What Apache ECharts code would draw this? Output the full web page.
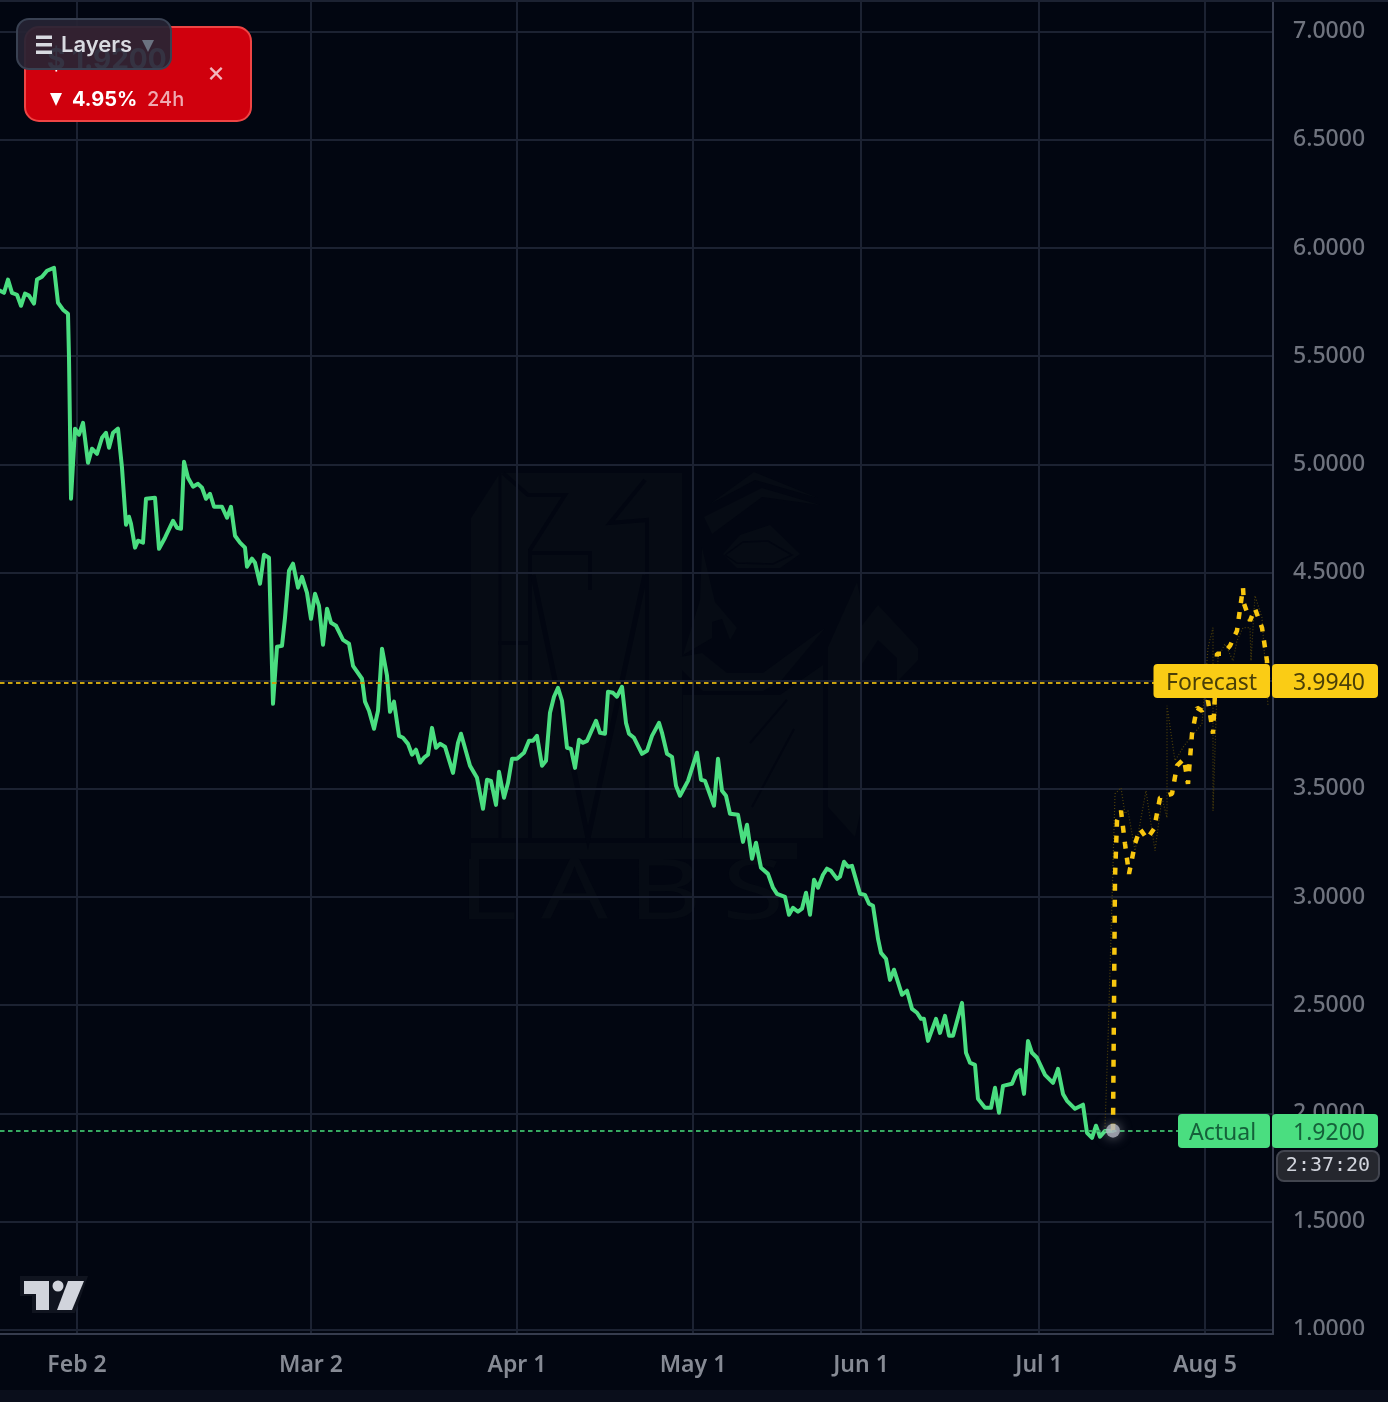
<!DOCTYPE html>
<html>
<head>
<meta charset="utf-8">
<title>Price and forecast</title>
<style>
  html, body { margin: 0; padding: 0; background: #020611; }
  #chart { width: 1388px; height: 1402px; }
</style>
<script src="https://cdn.jsdelivr.net/npm/echarts@6/dist/echarts.min.js"></script>
</head>
<body>
<div id="chart"></div>
<script>
// Session positions carrying a date label along the time axis
const tickBars = [38.5, 155.5, 258.5, 346.5, 430.5, 519.5, 602.5];
const tickLabels = ['Feb 2', 'Mar 2', 'Apr 1', 'May 1', 'Jun 1', 'Jul 1', 'Aug 5'];
const priceTicks = [1, 1.5, 2, 2.5, 3, 3.5, 4, 4.5, 5, 5.5, 6, 6.5, 7];

const lastActual = 1.92;
const lastForecast = 3.994;

// [session position, price]
const actualPrices = [
  [0,5.803],[2,5.793],[4,5.854],[6,5.793],[8.5,5.784],[10.5,5.733],[12.5,5.789],[14.5,5.78],[17,5.743],[18.5,5.854],
  [21,5.867],[23.5,5.895],[27,5.909],[29,5.747],[31.5,5.715],[34,5.696],[34.5,5.493],[35.5,4.841],[37.5,5.165],[39.5,5.137],
  [41.5,5.192],[44,5.007],[46,5.072],[48.5,5.049],[51,5.123],[53,5.146],[54.5,5.077],[56.5,5.146],[59,5.165],[61,4.984],
  [63,4.721],[64.5,4.758],[65.5,4.725],[67.5,4.615],[69,4.647],[71.5,4.638],[73,4.841],[77.5,4.846],[79.5,4.61],[82.5,4.661],
  [86.5,4.739],[88.5,4.707],[90.5,4.702],[92,5.012],[94,4.938],[96.5,4.897],[99,4.91],[101,4.892],[103,4.841],[105,4.864],
  [107,4.804],[111,4.804],[113.5,4.753],[115.5,4.804],[117.5,4.67],[120,4.638],[122.5,4.615],[123.5,4.527],[126,4.564],[127.5,4.545],
  [130,4.448],[132,4.582],[134.5,4.568],[136.5,3.893],[138.5,4.157],[141,4.161],[142.5,4.291],[144.5,4.508],[146.5,4.541],[149,4.43],
  [151,4.48],[153.5,4.406],[155.5,4.286],[157.5,4.402],[159.5,4.346],[161.5,4.166],[163.5,4.333],[165.5,4.268],[168,4.254],[171.5,4.189],
  [174.5,4.171],[176.5,4.069],[181,4.009],[182.5,3.903],[184.5,3.861],[187,3.778],[189,3.861],[191,4.148],[193.5,4.023],[195,3.856],
  [197,3.903],[199.5,3.745],[201.5,3.736],[204,3.708],[206,3.658],[208,3.681],[210,3.621],[212,3.644],[214,3.658],[216,3.782],
  [218,3.69],[220,3.708],[222.5,3.695],[226.5,3.574],[229,3.713],[230.5,3.755],[235,3.607],[238.5,3.551],[241.5,3.408],[243.5,3.542],
  [245.5,3.537],[248,3.426],[249.5,3.579],[252,3.459],[254,3.528],[256,3.639],[258.5,3.639],[262,3.667],[264.5,3.722],[266.5,3.722],
  [268.5,3.745],[271,3.607],[273,3.63],[275,3.852],[277,3.926],[279,3.967],[281,3.907],[283.5,3.69],[285.5,3.685],[287.5,3.597],
  [289.5,3.727],[291.5,3.713],[293.5,3.722],[298,3.815],[300,3.759],[302.5,3.755],[304,3.949],[306.5,3.944],[308.5,3.926],[311,3.972],
  [313,3.805],[314.5,3.755],[317,3.736],[321,3.662],[323.5,3.676],[326,3.745],[329.5,3.805],[331,3.759],[333.5,3.662],[336,3.648],
  [338,3.514],[340,3.468],[344,3.537],[348.5,3.667],[350.5,3.542],[352.5,3.537],[357,3.422],[359,3.639],[361,3.491],[363,3.468],
  [365,3.385],[369,3.38],[371.5,3.255],[373.5,3.334],[376,3.177],[378,3.251],[380.5,3.135],[384,3.107],[386.5,3.043],[388.5,3.015],
  [392.5,3.001],[394.5,2.918],[396.5,2.95],[399,2.932],[401,2.946],[403,3.02],[405,2.918],[407,3.08],[409,3.043],[411.5,3.103],
  [413.5,3.131],[415.5,3.121],[418.5,3.084],[420,3.094],[422,3.163],[424,3.14],[426,3.144],[430,3.015],[432.5,3.01],[434.5,2.969],
  [436.5,2.96],[439,2.807],[440.5,2.742],[443,2.715],[445,2.617],[447,2.664],[451,2.548],[453.5,2.567],[456,2.483],[458.5,2.465],
  [460.5,2.437],[462,2.437],[464,2.335],[468,2.437],[470,2.372],[472.5,2.451],[474.5,2.359],[476.5,2.359],[481,2.511],[483,2.28],
  [485,2.234],[487.5,2.224],[489,2.067],[492.5,2.026],[495.5,2.026],[497.5,2.118],[499.5,2.003],[501.5,2.127],[506,2.137],[508.5,2.192],
  [510,2.201],[512,2.09],[514,2.335],[516,2.28],[518.5,2.257],[522.5,2.178],[526.5,2.141],[529,2.206],[531.5,2.09],[533.5,2.058],
  [537.5,2.021],[541.5,2.04],[543.5,1.91],[546,1.887],[548,1.943],[550,1.892],[552.5,1.919],[556.5,lastActual]
];

const forecastPrices = [
  [556.5,lastActual],[557.5,3.089],[558.5,3.352],[560.5,3.399],[562.5,3.246],[564.5,3.107],[567.5,3.246],[570,3.315],[573.5,3.269],[577,3.315],
  [580,3.459],[586,3.477],[588.5,3.607],[592,3.639],[594,3.523],[596,3.755],[598.5,3.875],[601,3.861],[604,3.907],[606.5,3.755],
  [608.5,4.125],[611.5,4.125],[615,4.161],[618.5,4.231],[621.5,4.43],[622,4.356],[625,4.277],[627.5,4.333],[631,4.245],[633.5,4.092],
  [634,lastForecast]
];

// Faint dotted companion of the forecast
const forecastBand = [
  [552.5,1.938],[554,2.335],[557.5,3.477],[560.5,3.505],[562.5,3.385],[564,3.399],[567.5,3.214],[573,3.491],[577.5,3.214],[581,3.459],
  [583.5,3.366],[583.5,3.884],[587.5,3.63],[592,3.699],[601,3.801],[604,4.152],[606.5,4.245],[606.5,3.399],[609,4.106],[612.5,4.171],
  [616.5,4.092],[618.5,4.185],[621.5,4.245],[625,4.245],[625.5,4.092],[627.5,4.393],[631,4.291],[634,3.884]
];

const BG = '#020611';
const GRID = '#1c2232';
const AXIS = '#363c4e';
const GREEN = '#4ade80';
const YELLOW = '#facc15';
const UI_FONT = '"Noto Sans", sans-serif';
const WATERMARK = '#060b14';

function rect(x, y, width, height, fill, z, r, stroke, lineWidth) {
  return {
    type: 'rect', z: z, silent: true,
    shape: { x: x, y: y, width: width, height: height, r: r || 0 },
    style: { fill: fill, stroke: stroke || null, lineWidth: lineWidth || 0 }
  };
}
function label(text, x, y, fill, font, z, align) {
  return {
    type: 'text', z: z, silent: true,
    style: {
      text: text, x: x, y: y, fill: fill, font: font,
      align: align || 'left', verticalAlign: 'middle'
    }
  };
}
function poly(points, fill, z) {
  return { type: 'polygon', z: z, silent: true, shape: { points: points }, style: { fill: fill } };
}
function cut(points, width) {
  return {
    type: 'polyline', z: -1, silent: true, shape: { points: points },
    style: { stroke: BG, lineWidth: width, fill: null }
  };
}
function logoLetter(ch, x, stretch) {
  return {
    type: 'text', z: -2, silent: true, x: x, y: 895, scaleX: stretch,
    style: { text: ch, x: 0, y: 0, fill: WATERMARK, font: '400 84px "Noto Sans", sans-serif', align: 'left', verticalAlign: 'middle' }
  };
}

// Faint studio logo behind the plot
const logo = [
  poly([[471,518],[500,473],[682,473],[682,838],[471,838]], WATERMARK, -2),
  cut([[500,473],[500,838]], 3),
  cut([[503,473],[528,495],[565,495],[530,550],[530,838]], 4),
  cut([[530,553],[590,553],[590,590]], 4),
  cut([[498,643],[530,643]], 4),
  cut([[533,575],[588,838],[645,575]], 5),
  cut([[645,480],[610,523],[647,520],[647,838]], 4),
  // brows, eye and cheek
  poly([[704,517],[762,488],[820,505],[762,497],[712,534]], WATERMARK, -2),
  poly([[710,504],[754,472],[818,498],[755,480]], WATERMARK, -2),
  poly([[723,554],[740,535],[770,525],[800,554],[780,568],[737,568]], WATERMARK, -2),
  cut([[725,555],[743,542],[768,541],[792,555],[773,564],[737,563],[725,555]], 1.5),
  poly([[702,547],[715,602],[737,628],[730,640],[722,619],[712,622],[712,638],[683,655],[700,600]], WATERMARK, -2),
  poly([[680,657],[702,653],[727,673],[763,673],[808,640],[825,628],[780,682],[763,691],[703,691],[680,668]], WATERMARK, -2),
  // right hand stem and chevron
  poly([[857,582],[861,600],[861,810],[855,837],[828,807],[828,647]], WATERMARK, -2),
  poly([[878,605],[918,648],[918,660],[897,682],[897,658],[878,640],[860,667],[860,628]], WATERMARK, -2),
  poly([[683,695],[780,695],[823,665],[823,838],[683,838]], WATERMARK, -2),
  cut([[794,729],[752,807]], 2),
  cut([[787,700],[750,743]], 2),
  rect(471, 843, 326, 16, WATERMARK, -2),
  logoLetter('L', 458, 1.35),
  logoLetter('A', 541, 1.25),
  logoLetter('B', 628, 1.35),
  logoLetter('S', 722, 1.35)
];

// Price tags on the right edge
const tags = [
  rect(1153.5, 664, 116.5, 34, YELLOW, 10, 4),
  rect(1272, 664, 106, 34, YELLOW, 10, 4),
  label('Forecast', 1166, 683, '#4a3f08', '23px ' + UI_FONT, 11),
  label('3.9940', 1293, 683, '#4a3f08', '23px ' + UI_FONT, 11),
  rect(1178, 1114, 92, 34, GREEN, 10, 4),
  rect(1272, 1114, 106, 34, GREEN, 10, 4),
  label('Actual', 1189, 1133, '#15613a', '23px ' + UI_FONT, 11),
  label('1.9200', 1293, 1133, '#15613a', '23px ' + UI_FONT, 11),
  rect(1277, 1151, 102, 30, '#25272e', 10, 7, '#42454f', 2),
  label('2:37:20', 1328, 1166, '#d1d4dc', '20px "DejaVu Sans Mono", monospace', 11, 'center')
];

// Ticker card with the layer menu over it
const panel = [
  rect(25, 27, 226, 94, '#d0000d', 20, 14, '#ef4444', 2),
  label('$ 1.9200', 47, 61, '#ffffff', '700 28px Inter, sans-serif', 21),
  poly([[50,93],[62,93],[56,106]], '#ffffff', 21),
  label('4.95%', 72, 100, '#ffffff', '700 20px Inter, sans-serif', 21),
  label('24h', 147, 100, '#efa9b0', '500 20px Inter, sans-serif', 21),
  label('×', 216, 73, '#f2b7bd', '28px Inter, sans-serif', 21, 'center'),
  rect(17, 19, 154, 50, 'rgba(38,36,52,0.93)', 22, 12, '#394152', 2),
  rect(36, 35.5, 16, 3.5, '#d9dae0', 23),
  rect(36, 43, 16, 3.5, '#d9dae0', 23),
  rect(36, 50.5, 16, 3.5, '#d9dae0', 23),
  label('Layers', 61, 45, '#d9dae0', '600 22px Inter, sans-serif', 23),
  poly([[142,40],[154,40],[148,52]], '#6b7280', 23)
];

// Platform mark in the lower left corner
const mark = [
  poly([[20,1276],[88,1276],[75,1313],[32,1313],[32,1296],[20,1296]], '#10141f', 8),
  poly([[24,1281],[49,1281],[49,1310],[36,1310],[36,1294],[24,1294]], '#d1d4dc', 9),
  { type: 'circle', z: 9, silent: true, shape: { cx: 58, cy: 1286, r: 5.5 }, style: { fill: '#d1d4dc' } },
  poly([[68,1281],[84,1281],[72,1310],[57,1310]], '#d1d4dc', 9)
];

const frame = [
  rect(0, 0, 1388, 2, GRID, 1),
  rect(0, 1335, 1388, 55, BG, 1),
  rect(0, 1390, 1388, 12, '#0a0e1b', 1)
];

const chart = echarts.init(document.getElementById('chart'));
chart.setOption({
  backgroundColor: BG,
  animation: false,
  grid: { left: 0, right: 115, top: 0, bottom: 68 },
  graphic: { elements: [].concat(logo, frame, mark, tags, panel) },
  xAxis: {
    type: 'value',
    z: 2,
    min: 0,
    max: 636.5,
    axisLine: { onZero: false, lineStyle: { color: AXIS, width: 2 } },
    axisTick: { show: false, customValues: tickBars },
    splitLine: { show: true, lineStyle: { color: GRID, width: 2 } },
    axisLabel: {
      customValues: tickBars,
      margin: 20,
      fontFamily: 'Noto Sans',
      fontSize: 23,
      fontWeight: 600,
      color: function (v) { return v === tickBars[6] ? '#5d616c' : '#868a94'; },
      formatter: function (v) { return tickLabels[tickBars.indexOf(v)] || ''; }
    }
  },
  yAxis: {
    type: 'value',
    position: 'right',
    z: 0,
    min: 0.9801,
    max: 7.1465,
    axisLine: { show: true, onZero: false, lineStyle: { color: AXIS, width: 2 } },
    axisTick: { show: false, customValues: priceTicks },
    splitLine: { show: true, lineStyle: { color: GRID, width: 2 } },
    axisLabel: {
      customValues: priceTicks,
      margin: 20,
      padding: [3, 0, 0, 0],
      fontFamily: 'Noto Sans',
      fontSize: 23,
      fontWeight: 500,
      color: '#6f737e',
      formatter: function (v) { return v.toFixed(4); }
    }
  },
  series: [
    {
      name: 'Forecast band',
      type: 'line',
      z: 2,
      silent: true,
      showSymbol: false,
      data: forecastBand,
      lineStyle: { color: '#4f410a', width: 1.2, type: [1, 2] }
    },
    {
      name: 'Actual',
      type: 'line',
      z: 3,
      silent: true,
      showSymbol: false,
      data: actualPrices,
      lineStyle: { color: GREEN, width: 4, join: 'round', cap: 'round' },
      markLine: {
        silent: true,
        symbol: 'none',
        animation: false,
        label: { show: false },
        lineStyle: { color: '#37ab62', width: 2, type: [4.5, 3.5] },
        data: [{ yAxis: lastActual }]
      }
    },
    {
      name: 'Forecast',
      type: 'line',
      z: 4,
      silent: true,
      showSymbol: false,
      data: forecastPrices,
      lineStyle: { color: '#f8c60f', width: 4.5, type: [7, 9] },
      markLine: {
        silent: true,
        symbol: 'none',
        animation: false,
        label: { show: false },
        lineStyle: { color: '#c9a20f', width: 2, type: [4.5, 3.5] },
        data: [{ yAxis: lastForecast }]
      }
    },
    {
      name: 'Last price',
      type: 'scatter',
      z: 5,
      silent: true,
      symbolSize: 14,
      data: [actualPrices[actualPrices.length - 1]],
      itemStyle: { color: '#b2b5c0', shadowBlur: 12, shadowColor: 'rgba(210,212,225,0.65)' }
    }
  ]
});
</script>
</body>
</html>
